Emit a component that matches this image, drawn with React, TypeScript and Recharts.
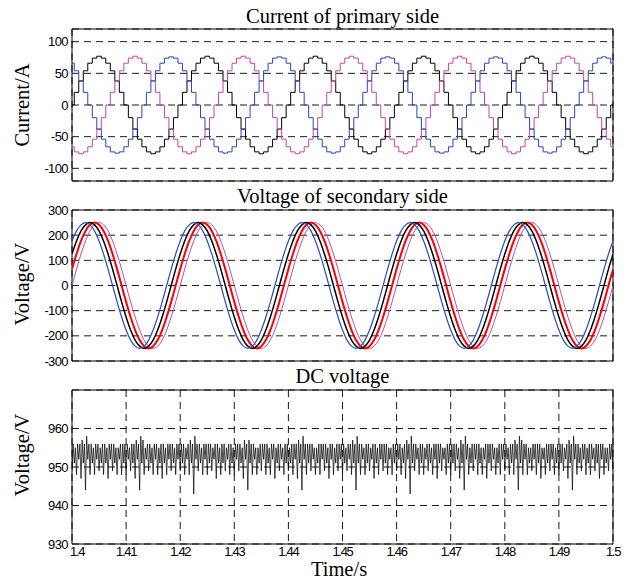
import { CartesianGrid, Line, LineChart, ReferenceArea, XAxis, YAxis } from "recharts";
import type { ReactNode } from "react";

// sampling of the simulation traces
const T_START = 1.4;
const FINE_STEP = 1 / 1200; // 15 electrical degrees at 50 Hz
const DC_STEP = 1 / 4800;

const TIME_TICKS = [1.4, 1.41, 1.42, 1.43, 1.44, 1.45, 1.46, 1.47, 1.48, 1.49, 1.5];
const CURRENT_TICKS = [-100, -50, 0, 50, 100];
const VOLTAGE_TICKS = [-300, -200, -100, 0, 100, 200, 300];
const DC_TICKS = [930, 940, 950, 960];

// primary side currents (A), one value per 1/1200 s
const CURRENT_BLACK = [
  0, 20, 38, 54, 66, 74, 77, 74, 66, 54, 38, 20, 0, -20, -38, -54, -66, -74, -77, -74, -66, -54, -38, -20,
  0, 20, 38, 54, 66, 74, 77, 74, 66, 54, 38, 20, 0, -20, -38, -54, -66, -74, -77, -74, -66, -54, -38, -20,
  0, 20, 38, 54, 66, 74, 77, 74, 66, 54, 38, 20, 0, -20, -38, -54, -66, -74, -77, -74, -66, -54, -38, -20,
  0, 20, 38, 54, 66, 74, 77, 74, 66, 54, 38, 20, 0, -20, -38, -54, -66, -74, -77, -74, -66, -54, -38, -20,
  0, 20, 38, 54, 66, 74, 77, 74, 66, 54, 38, 20, 0, -20, -38, -54, -66, -74, -77, -74, -66, -54, -38, -20,
  0,
];
const CURRENT_PINK = [
  -66, -74, -77, -74, -66, -54, -38, -20, 0, 20, 38, 54, 66, 74, 77, 74, 66, 54, 38, 20, 0, -20, -38, -54,
  -66, -74, -77, -74, -66, -54, -38, -20, 0, 20, 38, 54, 66, 74, 77, 74, 66, 54, 38, 20, 0, -20, -38, -54,
  -66, -74, -77, -74, -66, -54, -38, -20, 0, 20, 38, 54, 66, 74, 77, 74, 66, 54, 38, 20, 0, -20, -38, -54,
  -66, -74, -77, -74, -66, -54, -38, -20, 0, 20, 38, 54, 66, 74, 77, 74, 66, 54, 38, 20, 0, -20, -38, -54,
  -66, -74, -77, -74, -66, -54, -38, -20, 0, 20, 38, 54, 66, 74, 77, 74, 66, 54, 38, 20, 0, -20, -38, -54,
  -66,
];
const CURRENT_BLUE = [
  66, 54, 38, 20, 0, -20, -38, -54, -66, -74, -76, -74, -66, -54, -38, -20, 0, 20, 38, 54, 66, 74, 76, 74,
  66, 54, 38, 20, 0, -20, -38, -54, -66, -74, -76, -74, -66, -54, -38, -20, 0, 20, 38, 54, 66, 74, 76, 74,
  66, 54, 38, 20, 0, -20, -38, -54, -66, -74, -76, -74, -66, -54, -38, -20, 0, 20, 38, 54, 66, 74, 76, 74,
  66, 54, 38, 20, 0, -20, -38, -54, -66, -74, -76, -74, -66, -54, -38, -20, 0, 20, 38, 54, 66, 74, 76, 74,
  66, 54, 38, 20, 0, -20, -38, -54, -66, -74, -76, -74, -66, -54, -38, -20, 0, 20, 38, 54, 66, 74, 76, 74,
  66,
];

// secondary side voltages (V), one value per 1/1200 s
const VOLT_PINK = [
  0, 65, 125, 177, 217, 241, 250, 241, 217, 177, 125, 65, 0, -65, -125, -177, -217, -241, -250, -241, -217, -177, -125, -65,
  0, 65, 125, 177, 217, 241, 250, 241, 217, 177, 125, 65, 0, -65, -125, -177, -217, -241, -250, -241, -217, -177, -125, -65,
  0, 65, 125, 177, 217, 241, 250, 241, 217, 177, 125, 65, 0, -65, -125, -177, -217, -241, -250, -241, -217, -177, -125, -65,
  0, 65, 125, 177, 217, 241, 250, 241, 217, 177, 125, 65, 0, -65, -125, -177, -217, -241, -250, -241, -217, -177, -125, -65,
  0, 65, 125, 177, 217, 241, 250, 241, 217, 177, 125, 65, 0, -65, -125, -177, -217, -241, -250, -241, -217, -177, -125, -65,
  0,
];
const VOLT_RED = [
  65, 125, 177, 217, 241, 250, 241, 217, 177, 125, 65, 0, -65, -125, -177, -217, -241, -250, -241, -217, -177, -125, -65, 0,
  65, 125, 177, 217, 241, 250, 241, 217, 177, 125, 65, 0, -65, -125, -177, -217, -241, -250, -241, -217, -177, -125, -65, 0,
  65, 125, 177, 217, 241, 250, 241, 217, 177, 125, 65, 0, -65, -125, -177, -217, -241, -250, -241, -217, -177, -125, -65, 0,
  65, 125, 177, 217, 241, 250, 241, 217, 177, 125, 65, 0, -65, -125, -177, -217, -241, -250, -241, -217, -177, -125, -65, 0,
  65, 125, 177, 217, 241, 250, 241, 217, 177, 125, 65, 0, -65, -125, -177, -217, -241, -250, -241, -217, -177, -125, -65, 0,
  65,
];
const VOLT_BLACK = [
  125, 177, 217, 241, 250, 241, 217, 177, 125, 65, 0, -65, -125, -177, -217, -241, -250, -241, -217, -177, -125, -65, 0, 65,
  125, 177, 217, 241, 250, 241, 217, 177, 125, 65, 0, -65, -125, -177, -217, -241, -250, -241, -217, -177, -125, -65, 0, 65,
  125, 177, 217, 241, 250, 241, 217, 177, 125, 65, 0, -65, -125, -177, -217, -241, -250, -241, -217, -177, -125, -65, 0, 65,
  125, 177, 217, 241, 250, 241, 217, 177, 125, 65, 0, -65, -125, -177, -217, -241, -250, -241, -217, -177, -125, -65, 0, 65,
  125, 177, 217, 241, 250, 241, 217, 177, 125, 65, 0, -65, -125, -177, -217, -241, -250, -241, -217, -177, -125, -65, 0, 65,
  125,
];
const VOLT_BLUE = [
  177, 217, 241, 250, 241, 217, 177, 125, 65, 0, -65, -125, -177, -217, -241, -250, -241, -217, -177, -125, -65, 0, 65, 125,
  177, 217, 241, 250, 241, 217, 177, 125, 65, 0, -65, -125, -177, -217, -241, -250, -241, -217, -177, -125, -65, 0, 65, 125,
  177, 217, 241, 250, 241, 217, 177, 125, 65, 0, -65, -125, -177, -217, -241, -250, -241, -217, -177, -125, -65, 0, 65, 125,
  177, 217, 241, 250, 241, 217, 177, 125, 65, 0, -65, -125, -177, -217, -241, -250, -241, -217, -177, -125, -65, 0, 65, 125,
  177, 217, 241, 250, 241, 217, 177, 125, 65, 0, -65, -125, -177, -217, -241, -250, -241, -217, -177, -125, -65, 0, 65, 125,
  177,
];

// DC link voltage (V), one value per 1/4800 s, one row per 10 ms
const DC_VOLTAGE = [
  949, 956, 951, 955, 948, 956, 952, 956, 947, 957, 951, 956, 944, 958, 952, 956, 948, 956, 951, 955, 948, 956, 952, 956, 949, 955, 951, 956, 948, 956, 951, 955, 947, 956, 952, 956, 949, 956, 951, 955, 948, 955, 952, 956, 948, 956, 951, 956,
  948, 956, 952, 955, 949, 956, 951, 956, 947, 957, 952, 956, 944, 958, 951, 957, 948, 955, 952, 956, 949, 956, 951, 955, 948, 956, 952, 956, 948, 955, 951, 956, 947, 956, 951, 955, 948, 956, 952, 956, 949, 956, 951, 955, 948, 956, 952, 956,
  949, 956, 951, 956, 948, 955, 952, 956, 948, 957, 951, 956, 943, 958, 952, 956, 949, 956, 951, 955, 948, 956, 952, 956, 948, 956, 951, 956, 949, 955, 952, 956, 947, 956, 951, 955, 948, 956, 951, 956, 949, 955, 952, 956, 948, 956, 951, 955,
  948, 956, 952, 956, 949, 956, 951, 955, 947, 957, 952, 956, 944, 957, 951, 956, 948, 956, 952, 955, 948, 955, 951, 956, 949, 956, 952, 956, 948, 956, 951, 955, 948, 956, 952, 956, 947, 955, 951, 956, 949, 956, 952, 955, 948, 956, 951, 956,
  949, 955, 951, 956, 948, 956, 952, 956, 947, 957, 951, 956, 944, 958, 952, 956, 948, 956, 951, 956, 949, 956, 952, 955, 948, 955, 951, 956, 948, 956, 952, 956, 949, 956, 951, 955, 947, 956, 952, 956, 948, 955, 951, 956, 949, 956, 952, 956,
  948, 956, 951, 955, 949, 956, 952, 956, 948, 957, 951, 956, 944, 958, 951, 956, 948, 956, 952, 955, 948, 956, 951, 956, 949, 955, 952, 956, 947, 956, 951, 955, 948, 956, 952, 956, 949, 956, 951, 956, 948, 955, 952, 955, 948, 956, 951, 956,
  949, 956, 952, 956, 948, 955, 951, 956, 947, 957, 952, 956, 943, 958, 951, 956, 949, 956, 952, 955, 948, 956, 951, 956, 948, 955, 952, 956, 949, 956, 951, 955, 948, 956, 952, 956, 947, 956, 951, 956, 949, 955, 952, 955, 948, 956, 951, 956,
  948, 956, 951, 956, 949, 956, 952, 955, 947, 957, 951, 956, 944, 958, 952, 956, 948, 955, 951, 956, 949, 956, 952, 956, 948, 956, 951, 955, 948, 955, 952, 956, 947, 956, 951, 956, 949, 956, 952, 955, 948, 955, 951, 956, 948, 956, 952, 956,
  949, 956, 952, 955, 948, 956, 951, 956, 948, 957, 952, 956, 944, 958, 951, 957, 948, 956, 952, 956, 948, 955, 951, 955, 949, 956, 952, 956, 948, 956, 951, 956, 947, 955, 952, 955, 948, 956, 951, 956, 949, 956, 952, 956, 948, 955, 951, 956,
  948, 956, 951, 956, 949, 955, 952, 956, 947, 957, 951, 956, 944, 958, 952, 956, 948, 956, 951, 955, 949, 956, 952, 956, 948, 955, 951, 956, 948, 956, 952, 955, 949, 956, 951, 956, 947, 956, 952, 956, 948, 955, 951, 955, 949, 956, 952, 956,
  949,
];

const currentRows = CURRENT_BLACK.map((black, i) => ({
  t: T_START + i * FINE_STEP,
  black,
  pink: CURRENT_PINK[i],
  blue: CURRENT_BLUE[i],
}));

const voltageRows = VOLT_PINK.map((pink, i) => ({
  t: T_START + i * FINE_STEP,
  blue: VOLT_BLUE[i],
  black: VOLT_BLACK[i],
  red: VOLT_RED[i],
  pink,
}));

const dcRows = DC_VOLTAGE.map((v, i) => ({ t: T_START + i * DC_STEP, v }));

const SERIF = '"Liberation Serif", "Times New Roman", serif';
const SANS = '"Liberation Sans", Arial, sans-serif';
const TICK_STYLE = { fontFamily: SANS, fontSize: 13, fill: "#000", letterSpacing: -0.6 };

const WIDTH = 634;
const X_DOMAIN: [number, number] = [1.4, 1.5];

// first time label sits just right of the axis corner, like the original figure
function TimeTick({ x, y, payload }: { x: number; y: number; payload: { value: number } }) {
  const first = payload.value === TIME_TICKS[0];
  return (
    <text
      x={first ? x - 2 : x}
      y={y}
      dy="0.71em"
      textAnchor={first ? "start" : "middle"}
      fontFamily={SANS}
      fontSize={13}
      letterSpacing={-1.3}
      fill="#000"
    >
      {String(payload.value)}
    </text>
  );
}

type PanelProps = {
  top: number;
  height: number;
  marginTop: number;
  marginBottom: number;
  data: object[];
  yDomain: [number, number];
  yTicks: number[];
  showTime?: boolean;
  children: ReactNode;
};

function Panel({ top, height, marginTop, marginBottom, data, yDomain, yTicks, showTime, children }: PanelProps) {
  return (
    <div style={{ position: "absolute", left: 0, top, width: WIDTH, height }}>
      <LineChart
        width={WIDTH}
        height={height}
        data={data}
        margin={{ top: marginTop, right: 21, bottom: marginBottom, left: 0 }}
      >
        <CartesianGrid stroke="#1a1a1a" strokeDasharray="7 5" />
        <XAxis
          type="number"
          dataKey="t"
          domain={X_DOMAIN}
          allowDataOverflow
          ticks={TIME_TICKS}
          interval={0}
          stroke="#000"
          tick={showTime ? (props: any) => <TimeTick {...props} /> : false}
          height={showTime ? 41 : 0}
          axisLine={false}
          tickLine={false}
          tickSize={0}
          tickMargin={3}
        />
        <YAxis
          type="number"
          domain={yDomain}
          allowDataOverflow
          ticks={yTicks}
          interval={0}
          width={72}
          stroke="#000"
          tick={TICK_STYLE}
          axisLine={false}
          tickLine={false}
          tickSize={0}
          tickMargin={4}
        />
        <ReferenceArea
          x1={X_DOMAIN[0]}
          x2={X_DOMAIN[1]}
          y1={yDomain[0]}
          y2={yDomain[1]}
          fill="none"
          stroke="#000"
          strokeWidth={1}
        />
        {children}
      </LineChart>
    </div>
  );
}

export default function App() {
  return (
    <div style={{ position: "absolute", left: 0, top: 0, width: WIDTH, height: 585, background: "#fff" }}>
      <Panel top={0} height={190} marginTop={29} marginBottom={9} data={currentRows} yDomain={[-120, 120]} yTicks={CURRENT_TICKS}>
        <Line type="step" dataKey="black" stroke="#000" strokeWidth={1} dot={false} isAnimationActive={false} />
        <Line type="step" dataKey="pink" stroke="#c8449e" strokeWidth={1} dot={false} isAnimationActive={false} />
        <Line type="step" dataKey="blue" stroke="#2846b8" strokeWidth={1} dot={false} isAnimationActive={false} />
      </Panel>
      <Panel top={190} height={180} marginTop={20} marginBottom={9} data={voltageRows} yDomain={[-300, 300]} yTicks={VOLTAGE_TICKS}>
        <Line type="monotone" dataKey="pink" stroke="#b84cb8" strokeWidth={1} dot={false} isAnimationActive={false} />
        <Line type="monotone" dataKey="red" stroke="#ff0000" strokeWidth={2} dot={false} isAnimationActive={false} />
        <Line type="monotone" dataKey="black" stroke="#000" strokeWidth={1.5} dot={false} isAnimationActive={false} />
        <Line type="monotone" dataKey="blue" stroke="#2a4cc4" strokeWidth={1.2} dot={false} isAnimationActive={false} />
      </Panel>
      <Panel top={370} height={215} marginTop={20} marginBottom={0} data={dcRows} yDomain={[930, 970]} yTicks={DC_TICKS} showTime>
        <Line type="linear" dataKey="v" stroke="#000" strokeWidth={0.7} dot={false} isAnimationActive={false} />
      </Panel>
      <svg
        width={WIDTH}
        height={585}
        style={{ position: "absolute", left: 0, top: 0, pointerEvents: "none" }}
        fontFamily={SERIF}
        fontSize={20.5}
        fill="#000"
      >
        <text x={342.5} y={23} textAnchor="middle">Current of primary side</text>
        <text x={342.5} y={203} textAnchor="middle">Voltage of secondary side</text>
        <text x={342.5} y={383} textAnchor="middle">DC voltage</text>
        <text transform="translate(29,105) rotate(-90)" textAnchor="middle">Current/A</text>
        <text transform="translate(29,284) rotate(-90)" textAnchor="middle">Voltage/V</text>
        <text transform="translate(29,455) rotate(-90)" textAnchor="middle">Voltage/V</text>
        <text x={339} y={576} textAnchor="middle">Time/s</text>
      </svg>
    </div>
  );
}
